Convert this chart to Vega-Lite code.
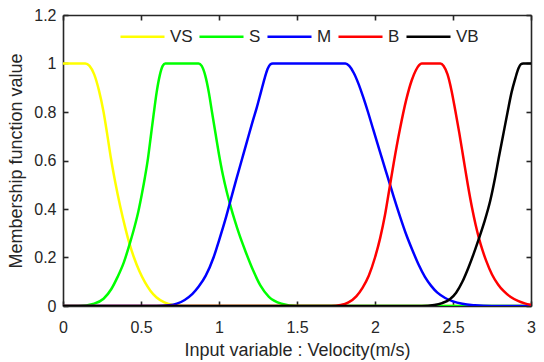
{
  "$schema": "https://vega.github.io/schema/vega-lite/v6.json",
  "width": 468,
  "height": 291,
  "autosize": {"type": "none"},
  "padding": {"left": 63, "top": 15, "right": 13, "bottom": 56},
  "background": "white",
  "config": {
    "view": {"stroke": null},
    "font": "Liberation Sans",
    "axis": {
      "grid": false,
      "domainColor": "#262626",
      "domainWidth": 1.6,
      "tickColor": "#262626",
      "tickWidth": 1.6,
      "tickSize": -5,
      "labelFlush": false,
      "labelColor": "#262626",
      "labelFont": "Liberation Sans",
      "labelFontSize": 16,
      "titleColor": "#262626",
      "titleFont": "Liberation Sans",
      "titleFontSize": 18,
      "titleFontWeight": "normal"
    }
  },
  "data": {"values": [
    {"s":"VS","x":0,"y":1},{"s":"VS","x":0.143,"y":1},{"s":"VS","x":0.17,"y":0.99},{"s":"VS","x":0.2,"y":0.955},{"s":"VS","x":0.23,"y":0.89},{"s":"VS","x":0.26,"y":0.8},{"s":"VS","x":0.283,"y":0.71},{"s":"VS","x":0.307,"y":0.61},{"s":"VS","x":0.335,"y":0.51},{"s":"VS","x":0.367,"y":0.41},{"s":"VS","x":0.4,"y":0.32},{"s":"VS","x":0.427,"y":0.255},{"s":"VS","x":0.455,"y":0.2},{"s":"VS","x":0.49,"y":0.143},{"s":"VS","x":0.525,"y":0.098},{"s":"VS","x":0.56,"y":0.063},{"s":"VS","x":0.6,"y":0.035},{"s":"VS","x":0.65,"y":0.015},{"s":"VS","x":0.71,"y":0.004},{"s":"VS","x":0.78,"y":0},{"s":"VS","x":3,"y":0},
    {"s":"S","x":0,"y":0},{"s":"S","x":0.1,"y":0},{"s":"S","x":0.2,"y":0.01},{"s":"S","x":0.26,"y":0.03},{"s":"S","x":0.31,"y":0.07},{"s":"S","x":0.35,"y":0.12},{"s":"S","x":0.39,"y":0.18},{"s":"S","x":0.427,"y":0.255},{"s":"S","x":0.46,"y":0.33},{"s":"S","x":0.483,"y":0.39},{"s":"S","x":0.505,"y":0.46},{"s":"S","x":0.525,"y":0.53},{"s":"S","x":0.545,"y":0.61},{"s":"S","x":0.563,"y":0.7},{"s":"S","x":0.581,"y":0.79},{"s":"S","x":0.6,"y":0.88},{"s":"S","x":0.62,"y":0.95},{"s":"S","x":0.639,"y":0.99},{"s":"S","x":0.656,"y":1},{"s":"S","x":0.869,"y":1},{"s":"S","x":0.889,"y":0.99},{"s":"S","x":0.912,"y":0.95},{"s":"S","x":0.935,"y":0.88},{"s":"S","x":0.955,"y":0.8},{"s":"S","x":0.978,"y":0.71},{"s":"S","x":1.0,"y":0.625},{"s":"S","x":1.025,"y":0.54},{"s":"S","x":1.05,"y":0.47},{"s":"S","x":1.075,"y":0.41},{"s":"S","x":1.1,"y":0.355},{"s":"S","x":1.13,"y":0.295},{"s":"S","x":1.17,"y":0.225},{"s":"S","x":1.22,"y":0.145},{"s":"S","x":1.265,"y":0.085},{"s":"S","x":1.32,"y":0.038},{"s":"S","x":1.4,"y":0.01},{"s":"S","x":1.5,"y":0},{"s":"S","x":3,"y":0},
    {"s":"M","x":0,"y":0},{"s":"M","x":0.6,"y":0},{"s":"M","x":0.68,"y":0.003},{"s":"M","x":0.73,"y":0.01},{"s":"M","x":0.78,"y":0.025},{"s":"M","x":0.83,"y":0.05},{"s":"M","x":0.87,"y":0.08},{"s":"M","x":0.915,"y":0.125},{"s":"M","x":0.965,"y":0.2},{"s":"M","x":1.0,"y":0.27},{"s":"M","x":1.04,"y":0.355},{"s":"M","x":1.074,"y":0.435},{"s":"M","x":1.11,"y":0.52},{"s":"M","x":1.145,"y":0.6},{"s":"M","x":1.18,"y":0.68},{"s":"M","x":1.213,"y":0.755},{"s":"M","x":1.243,"y":0.82},{"s":"M","x":1.27,"y":0.885},{"s":"M","x":1.293,"y":0.94},{"s":"M","x":1.312,"y":0.978},{"s":"M","x":1.328,"y":0.996},{"s":"M","x":1.345,"y":1},{"s":"M","x":1.81,"y":1},{"s":"M","x":1.835,"y":0.99},{"s":"M","x":1.865,"y":0.96},{"s":"M","x":1.895,"y":0.915},{"s":"M","x":1.925,"y":0.86},{"s":"M","x":1.955,"y":0.8},{"s":"M","x":1.99,"y":0.725},{"s":"M","x":2.03,"y":0.64},{"s":"M","x":2.07,"y":0.555},{"s":"M","x":2.094,"y":0.505},{"s":"M","x":2.12,"y":0.45},{"s":"M","x":2.16,"y":0.37},{"s":"M","x":2.2,"y":0.295},{"s":"M","x":2.24,"y":0.23},{"s":"M","x":2.28,"y":0.17},{"s":"M","x":2.32,"y":0.12},{"s":"M","x":2.36,"y":0.083},{"s":"M","x":2.4,"y":0.055},{"s":"M","x":2.45,"y":0.033},{"s":"M","x":2.5,"y":0.019},{"s":"M","x":2.56,"y":0.009},{"s":"M","x":2.64,"y":0.003},{"s":"M","x":2.75,"y":0},{"s":"M","x":3,"y":0},
    {"s":"B","x":0,"y":0},{"s":"B","x":1.72,"y":0},{"s":"B","x":1.78,"y":0.004},{"s":"B","x":1.83,"y":0.015},{"s":"B","x":1.88,"y":0.04},{"s":"B","x":1.92,"y":0.075},{"s":"B","x":1.96,"y":0.125},{"s":"B","x":2.0,"y":0.2},{"s":"B","x":2.033,"y":0.28},{"s":"B","x":2.064,"y":0.375},{"s":"B","x":2.094,"y":0.49},{"s":"B","x":2.12,"y":0.59},{"s":"B","x":2.16,"y":0.73},{"s":"B","x":2.2,"y":0.85},{"s":"B","x":2.235,"y":0.93},{"s":"B","x":2.262,"y":0.972},{"s":"B","x":2.283,"y":0.993},{"s":"B","x":2.3,"y":1},{"s":"B","x":2.419,"y":1},{"s":"B","x":2.44,"y":0.99},{"s":"B","x":2.465,"y":0.955},{"s":"B","x":2.49,"y":0.89},{"s":"B","x":2.515,"y":0.805},{"s":"B","x":2.54,"y":0.715},{"s":"B","x":2.568,"y":0.605},{"s":"B","x":2.595,"y":0.5},{"s":"B","x":2.622,"y":0.405},{"s":"B","x":2.645,"y":0.335},{"s":"B","x":2.667,"y":0.278},{"s":"B","x":2.69,"y":0.228},{"s":"B","x":2.713,"y":0.186},{"s":"B","x":2.75,"y":0.13},{"s":"B","x":2.79,"y":0.088},{"s":"B","x":2.824,"y":0.062},{"s":"B","x":2.87,"y":0.037},{"s":"B","x":2.92,"y":0.02},{"s":"B","x":2.96,"y":0.011},{"s":"B","x":3,"y":0.005},
    {"s":"VB","x":0,"y":0},{"s":"VB","x":2.3,"y":0},{"s":"VB","x":2.38,"y":0.004},{"s":"VB","x":2.43,"y":0.012},{"s":"VB","x":2.48,"y":0.028},{"s":"VB","x":2.52,"y":0.055},{"s":"VB","x":2.56,"y":0.1},{"s":"VB","x":2.6,"y":0.16},{"s":"VB","x":2.635,"y":0.22},{"s":"VB","x":2.667,"y":0.28},{"s":"VB","x":2.7,"y":0.345},{"s":"VB","x":2.739,"y":0.435},{"s":"VB","x":2.77,"y":0.53},{"s":"VB","x":2.793,"y":0.61},{"s":"VB","x":2.82,"y":0.7},{"s":"VB","x":2.85,"y":0.8},{"s":"VB","x":2.875,"y":0.88},{"s":"VB","x":2.9,"y":0.94},{"s":"VB","x":2.92,"y":0.98},{"s":"VB","x":2.935,"y":0.997},{"s":"VB","x":2.95,"y":1},{"s":"VB","x":3,"y":1}
  ]},
  "layer": [
    {
      "mark": {"type": "line", "interpolate": "monotone", "strokeWidth": 2.5, "clip": true},
      "encoding": {
        "x": {"field": "x", "type": "quantitative",
              "scale": {"domain": [0, 3], "nice": false, "zero": false},
              "axis": {"title": "Input variable : Velocity(m/s)", "values": [0, 0.5, 1, 1.5, 2, 2.5, 3], "format": "~g", "labelPadding": 18, "titlePadding": 6}},
        "y": {"field": "y", "type": "quantitative",
              "scale": {"domain": [0, 1.2], "nice": false, "zero": false},
              "axis": {"title": "Membership function value", "values": [0, 0.2, 0.4, 0.6, 0.8, 1, 1.2], "format": "~g", "labelPadding": 12, "titlePadding": 8}},
        "color": {"field": "s", "type": "nominal",
                  "scale": {"domain": ["VS", "S", "M", "B", "VB"], "range": ["#FFFF00", "#00FF00", "#0000FF", "#FF0000", "#000000"]},
                  "legend": {"orient": "none", "legendX": 56, "legendY": -2, "direction": "horizontal", "title": null,
                             "symbolType": "stroke", "symbolSize": 1940, "symbolStrokeWidth": 2.5,
                             "labelFont": "Liberation Sans", "labelFontSize": 17, "labelColor": "#262626",
                             "labelOffset": 4, "columnPadding": 1}},
        "order": {"field": "x", "type": "quantitative"}
      }
    },
    {
      "mark": {"type": "line", "strokeOpacity": 0},
      "encoding": {
        "x": {"field": "x", "type": "quantitative",
              "axis": {"orient": "top", "title": null, "labels": false, "values": [0, 0.5, 1, 1.5, 2, 2.5, 3]}},
        "y": {"field": "y", "type": "quantitative",
              "axis": {"orient": "right", "title": null, "labels": false, "values": [0, 0.2, 0.4, 0.6, 0.8, 1, 1.2]}},
        "detail": {"field": "s"}
      }
    }
  ],
  "resolve": {"axis": {"x": "independent", "y": "independent"}}
}
